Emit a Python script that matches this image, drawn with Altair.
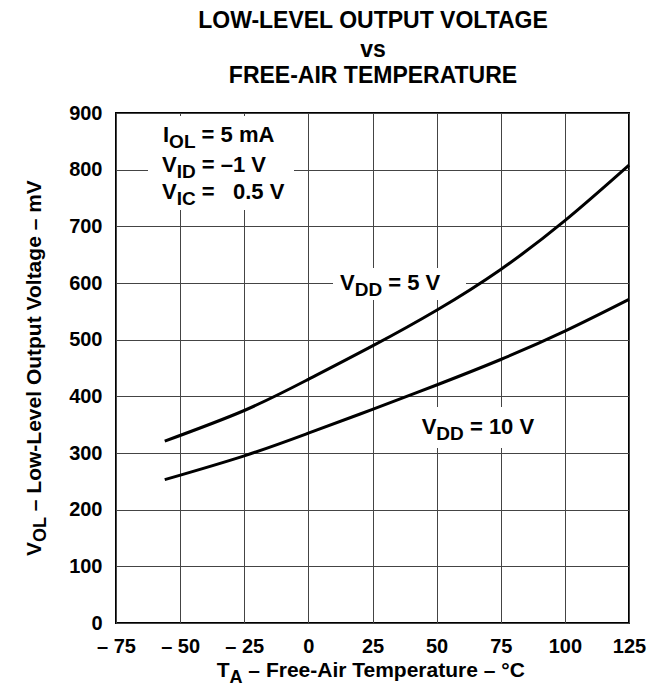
import altair as alt
import pandas as pd

# ---------------- data ----------------
temps = [-56, -25, 0, 25, 50, 75, 100, 125]
vol_5v = [321, 375, 430, 489, 552, 624, 710, 808]
vol_10v = [253, 295, 335, 377, 420, 465, 515, 571]
series_names = ["VDD = 5 V", "VDD = 10 V"]

x_ticks = [-75, -50, -25, 0, 25, 50, 75, 100, 125]
y_ticks = [0, 100, 200, 300, 400, 500, 600, 700, 800, 900]

title_lines = ["LOW-LEVEL OUTPUT VOLTAGE", "vs", "FREE-AIR TEMPERATURE"]

FONT = "Liberation Sans, Arial, Helvetica, sans-serif"
NB = "\u00a0"

# plot area placement on the page (page px)
PL, PT, PW, PH = 116, 113, 513, 510

rows = []
for t, v in zip(temps, vol_5v):
    rows.append({"T": t, "V": v, "s": series_names[0]})
for t, v in zip(temps, vol_10v):
    rows.append({"T": t, "V": v, "s": series_names[1]})
df = pd.DataFrame(rows)

# Arial-Bold metrics (per em) to chain text pieces with subscripts
W = {" ": .278, NB: .278, "=": .584, "–": .556, ".": .278, "-": .333, "°": .4, "\u2007": .556,
     "A": .722, "C": .722, "D": .722, "F": .611, "I": .278, "L": .611, "O": .778,
     "T": .611, "V": .667, "a": .556, "e": .556, "g": .611, "i": .278, "l": .278,
     "m": .889, "o": .611, "p": .611, "r": .389, "t": .333, "u": .611, "v": .556,
     "w": .778}


def tw(s, fs):
    return sum(W.get(c, .556) for c in s) * fs


def pieces(parts, x0, y0, rotated=False):
    """parts: list of (text, fontsize, baseline_shift, gap_before). x0,y0 page coords."""
    out = []
    cum = 0.0
    for text, fs, sh, gap in parts:
        cum += gap
        if rotated:
            px = x0 + sh - PL
            py = y0 - cum - PT
        else:
            px = x0 + cum - PL
            py = y0 + sh - PT
        out.append({"text": text, "px": px, "py": py, "fs": fs})
        cum += tw(text, fs)
    return out


MAIN, SUB, SH = 22, 19, 6
G = 0.278 * MAIN  # width of a space
AM, AS = 21, 18   # axis-title sizes
GA = 0.278 * AM

horiz = []
horiz += pieces([("T", AM, 0, 0), ("A", AS, SH, 0), ("– Free-Air Temperature – °C", AM, 0, GA)], 216.7, 677)
horiz += pieces([("I", MAIN, 0, 0), ("OL", SUB, SH, 0), ("= 5 mA", MAIN, 0, G)], 163, 141.7)
horiz += pieces([("V", MAIN, 0, 0), ("ID", SUB, SH, 0), ("= –1 V", MAIN, 0, G)], 162, 171.7)
horiz += pieces([("V", MAIN, 0, 0), ("IC", SUB, SH, 0), ("=" + NB + "\u20070.5 V", MAIN, 0, G)], 162, 199)
horiz += pieces([("V", MAIN, 0, 0), ("DD", SUB, SH, 0), ("= 5 V", MAIN, 0, G)], 340, 290)
horiz += pieces([("V", MAIN, 0, 0), ("DD", SUB, SH, 0), ("= 10 V", MAIN, 0, G)], 421.7, 434)
horiz_df = pd.DataFrame(horiz)

rot = pieces([("V", AM, 0, 0), ("OL", AS, 5, 0), ("– Low-Level Output Voltage – mV", AM, 0, GA)],
             41, 556, rotated=True)
rot_df = pd.DataFrame(rot)

title_df = pd.DataFrame({
    "text": title_lines,
    "px": [373 - PL] * 3,
    "py": [28.3 - PT, 56.7 - PT, 83.3 - PT],
})

masks_df = pd.DataFrame({
    "x1": [148 - PL, 333 - PL, 415 - PL],
    "x2": [294 - PL, 466 - PL, 545 - PL],
    "y1": [116 - PT, 268 - PT, 407 - PT],
    "y2": [210 - PT, 300 - PT, 448 - PT],
})

xs = alt.Scale(domain=[-75, 125], nice=False, zero=False)
ys = alt.Scale(domain=[0, 900], nice=False)

x_axis = alt.Axis(values=x_ticks, grid=True, ticks=False, domain=False, title=None,
                  labelFont=FONT, labelFontSize=20, labelFontWeight="bold",
                  labelColor="black", labelPadding=13, labelFlush=False,
                  labelOverlap=False,
                  labelExpr="datum.value < 0 ? '– ' + abs(datum.value) : '' + datum.value",
                  gridColor="#444444", gridWidth=1, gridOpacity=1)
y_axis = alt.Axis(values=y_ticks, grid=True, ticks=False, domain=False, title=None,
                  labelFont=FONT, labelFontSize=20, labelFontWeight="bold",
                  labelColor="black", labelPadding=14, labelOverlap=False,
                  gridColor="#444444", gridWidth=1, gridOpacity=1)

lines = alt.Chart(df).mark_line(color="black", strokeWidth=3, interpolate="natural").encode(
    x=alt.X("T:Q", scale=xs, axis=x_axis),
    y=alt.Y("V:Q", scale=ys, axis=y_axis),
    detail="s:N",
)

masks = alt.Chart(masks_df).mark_rect(fill="white").encode(
    x=alt.X("x1:Q", scale=None), x2="x2:Q",
    y=alt.Y("y1:Q", scale=None), y2="y2:Q",
)

htext = alt.Chart(horiz_df).mark_text(align="left", baseline="alphabetic", font=FONT,
                                     fontWeight="bold", color="black").encode(
    x=alt.X("px:Q", scale=None), y=alt.Y("py:Q", scale=None),
    text="text:N", size=alt.Size("fs:Q", scale=None, legend=None),
)

rtext = alt.Chart(rot_df).mark_text(align="left", baseline="alphabetic", font=FONT,
                                    fontWeight="bold", color="black", angle=270).encode(
    x=alt.X("px:Q", scale=None), y=alt.Y("py:Q", scale=None),
    text="text:N", size=alt.Size("fs:Q", scale=None, legend=None),
)

ttext = alt.Chart(title_df).mark_text(align="center", baseline="alphabetic", font=FONT,
                                      fontWeight="bold", color="black", fontSize=23).encode(
    x=alt.X("px:Q", scale=None), y=alt.Y("py:Q", scale=None), text="text:N",
)

chart = alt.layer(masks, lines, htext, rtext, ttext).resolve_scale(
    x="independent", y="independent"
).properties(
    width=PW, height=PH,
    padding={"left": PL - 8, "top": PT - 8, "right": 660 - 16 - (PL - 8) - PW,
             "bottom": 80},
    autosize=alt.AutoSizeParams(type="none"),
    background="white",
).configure_view(stroke="black", strokeWidth=2)

chart.save("out.html", embed_options={"renderer": "svg", "actions": False})
